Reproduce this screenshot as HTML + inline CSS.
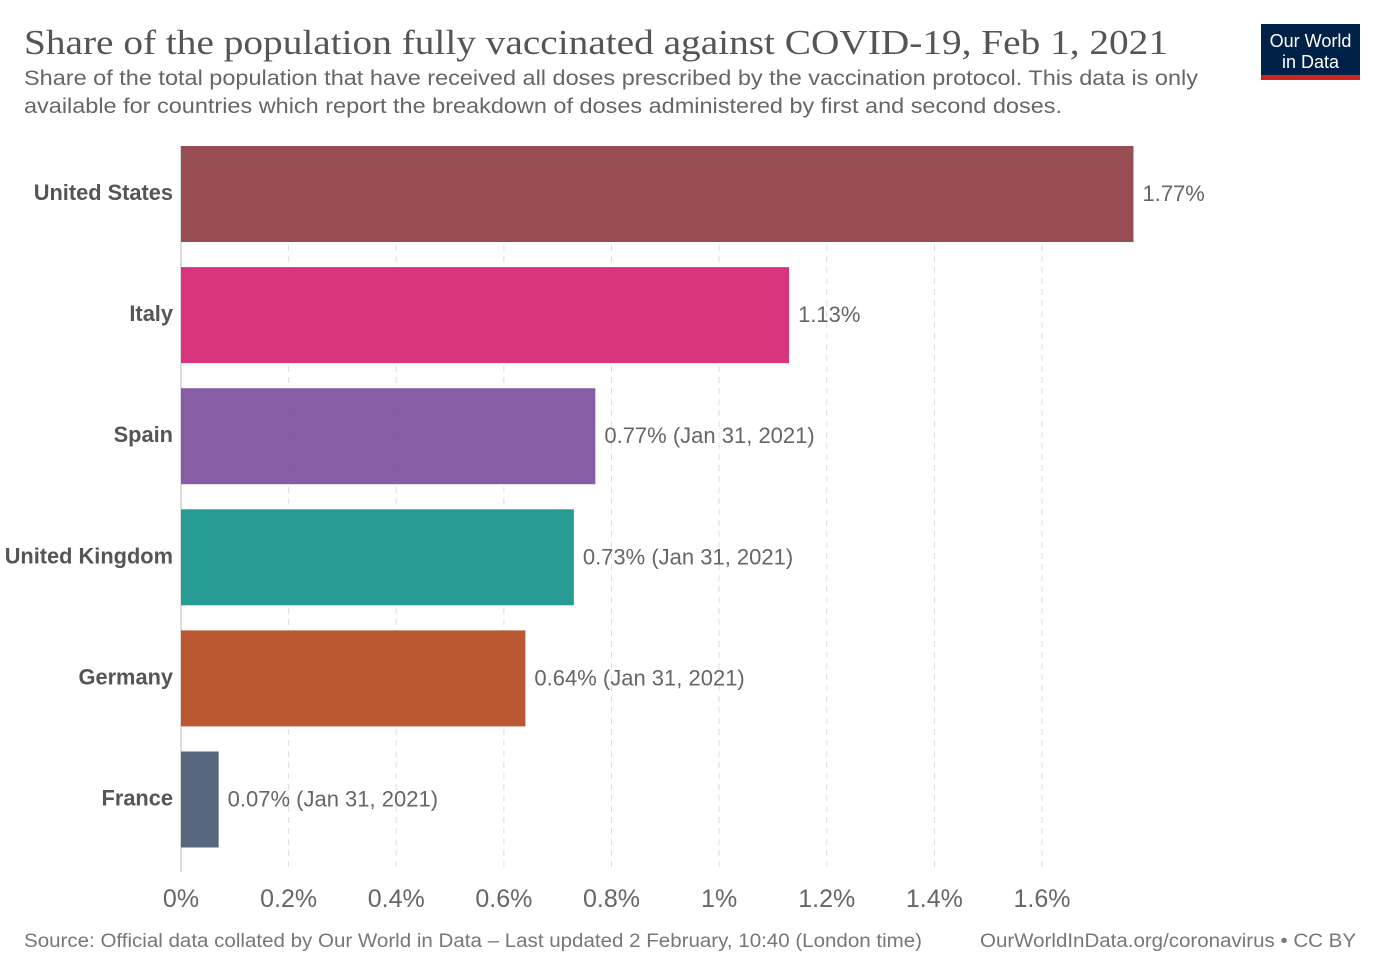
<!DOCTYPE html>
<html><head><meta charset="utf-8"><style>
html,body{margin:0;padding:0;background:#fff;}
svg{display:block;}
</style></head><body>
<svg id="chart" width="1385" height="978" xmlns="http://www.w3.org/2000/svg">
<text x="24" y="54" font-family="Liberation Serif, serif" font-size="35" fill="#555" textLength="1144" lengthAdjust="spacingAndGlyphs">Share of the population fully vaccinated against COVID-19, Feb 1, 2021</text>
<text x="24" y="85" font-family="Liberation Sans, sans-serif" font-size="21" fill="#666" textLength="1174" lengthAdjust="spacingAndGlyphs">Share of the total population that have received all doses prescribed by the vaccination protocol. This data is only</text>
<text x="24" y="113" font-family="Liberation Sans, sans-serif" font-size="21" fill="#666" textLength="1038" lengthAdjust="spacingAndGlyphs">available for countries which report the breakdown of doses administered by first and second doses.</text>
<g>
<rect x="1261" y="24" width="99" height="56" fill="#002147"/>
<rect x="1261" y="75" width="99" height="5" fill="#ce261e"/>
<text x="1310.5" y="47" text-anchor="middle" font-family="Liberation Sans, sans-serif" font-size="18" fill="#fff">Our World</text>
<text x="1310.5" y="68" text-anchor="middle" font-family="Liberation Sans, sans-serif" font-size="18" fill="#fff">in Data</text>
</g>
<g id="grid"></g><g id="bars"></g><g id="xticks"></g>
<text x="24" y="947" font-family="Liberation Sans, sans-serif" font-size="19" fill="#777" textLength="898" lengthAdjust="spacingAndGlyphs">Source: Official data collated by Our World in Data – Last updated 2 February, 10:40 (London time)</text>
<text x="1356" y="947" text-anchor="end" font-family="Liberation Sans, sans-serif" font-size="19" fill="#777" textLength="376" lengthAdjust="spacingAndGlyphs">OurWorldInData.org/coronavirus • CC BY</text>
</svg>
<script>
const countries=["United States","Italy","Spain","United Kingdom","Germany","France"];
const values=[1.77,1.13,0.77,0.73,0.64,0.07];
const valueLabels=["1.77%","1.13%","0.77% (Jan 31, 2021)","0.73% (Jan 31, 2021)","0.64% (Jan 31, 2021)","0.07% (Jan 31, 2021)"];
const colors=["#8c3a3f","#d51f6f","#7a4b9c","#10918a","#b2461c","#465670"];
const tickValues=[0,0.2,0.4,0.6,0.8,1,1.2,1.4,1.6];
const tickLabels=["0%","0.2%","0.4%","0.6%","0.8%","1%","1.2%","1.4%","1.6%"];
const NS="http://www.w3.org/2000/svg";
const x=v=>181+v*538.125;
const yTop=i=>146+i*121.1;
const bh=96;
function mk(t,a,p){const e=document.createElementNS(NS,t);for(const k in a)e.setAttribute(k,a[k]);p.appendChild(e);return e;}
const grid=document.getElementById('grid'),bars=document.getElementById('bars'),xt=document.getElementById('xticks');
tickValues.forEach((v,i)=>{
  const l=mk('line',{x1:x(v),x2:x(v),y1:146,y2:872,stroke:v===0?'#bbb':'#ddd','stroke-width':1,'stroke-dasharray':v===0?'none':'6,5'},grid);
  
  
  const t=mk('text',{x:x(v),y:907,'text-anchor':'middle','font-family':'Liberation Sans, sans-serif','font-size':25,fill:'#666'},xt);
  t.textContent=tickLabels[i];
  
  
});
countries.forEach((c,i)=>{
  const y=yTop(i);
  const r=mk('rect',{x:x(0),y:y,width:x(values[i])-x(0),height:bh,fill:colors[i],opacity:0.9},bars);
  
  
  const lb=mk('text',{x:173,y:y+bh/2+6,'text-anchor':'end','font-family':'Liberation Sans, sans-serif','font-size':21.8,'font-weight':'bold',fill:'#555'},bars);
  lb.textContent=c;
  
  
  const vl=mk('text',{x:x(values[i])+9,y:y+bh/2+7,'font-family':'Liberation Sans, sans-serif','font-size':22,fill:'#666'},bars);
  vl.textContent=valueLabels[i];
  
  
});
</script>
</body></html>
